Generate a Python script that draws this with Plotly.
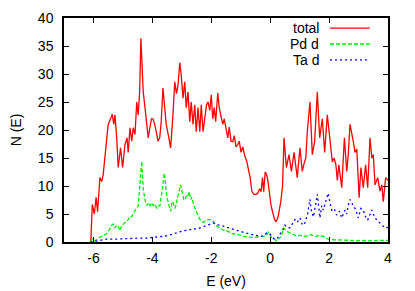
import plotly.graph_objects as go

# ---- data ----
e_total = [-6.10, -6.09, -6.04, -5.97, -5.91, -5.86, -5.78, -5.72, -5.67, -5.58, -5.50, -5.42, -5.36, -5.31,
           -5.27, -5.21, -5.16, -5.08, -5.01, -4.93, -4.86, -4.82, -4.76, -4.70, -4.65, -4.59, -4.53, -4.48,
           -4.43, -4.39, -4.35, -4.31, -4.25, -4.19, -4.14, -4.08, -4.03, -3.98, -3.92, -3.86, -3.81, -3.75,
           -3.70, -3.64, -3.58, -3.53, -3.44, -3.38, -3.30, -3.24, -3.18, -3.13, -3.07, -3.02, -2.96, -2.90,
           -2.85, -2.79, -2.73, -2.68, -2.62, -2.56, -2.51, -2.45, -2.39, -2.34, -2.28, -2.22, -2.16, -2.11,
           -2.05, -2.00, -1.95, -1.90, -1.85, -1.78, -1.73, -1.67, -1.61, -1.56, -1.50, -1.44, -1.39, -1.33,
           -1.27, -1.22, -1.16, -1.10, -1.05, -0.99, -0.93, -0.87, -0.80, -0.74, -0.68, -0.62, -0.55, -0.48,
           -0.42, -0.36, -0.31, -0.26, -0.22, -0.17, -0.12, -0.08, -0.03, 0.03, 0.10, 0.15, 0.20, 0.27,
           0.36, 0.42, 0.47, 0.55, 0.64, 0.72, 0.81, 0.92, 1.01, 1.09, 1.15, 1.21, 1.26, 1.35, 1.43, 1.51,
           1.60, 1.68, 1.77, 1.85, 1.94, 2.03, 2.11, 2.17, 2.23, 2.28, 2.33, 2.43, 2.52, 2.60, 2.65, 2.71,
           2.75, 2.82, 2.88, 2.94, 3.02, 3.08, 3.16, 3.24, 3.31, 3.39, 3.45, 3.50, 3.56, 3.65, 3.73, 3.79,
           3.84, 3.92, 4.00]
n_total = [0.0, 0.0, 6.7, 5.0, 8.0, 5.4, 11.5, 10.8, 12.0, 16.8, 21.0, 22.0, 22.8, 21.0,
           22.7, 18.6, 13.3, 16.8, 13.3, 17.4, 18.6, 16.0, 20.4, 18.0, 20.4, 19.2, 25.0, 22.7,
           27.0, 36.4, 30.0, 26.8, 24.0, 20.4, 18.6, 20.5, 22.0, 22.0, 21.0, 19.5, 18.0, 18.6,
           21.5, 27.5, 23.0, 21.0, 18.6, 16.8, 22.7, 28.6, 26.5, 28.0, 32.0, 29.8, 25.7, 28.6,
           24.0, 26.8, 21.5, 25.0, 21.0, 24.5, 19.7, 24.0, 19.7, 24.5, 19.7, 22.0, 24.5, 25.0,
           23.5, 26.3, 22.0, 24.0, 21.5, 26.6, 24.0, 22.5, 21.0, 22.0, 20.0, 18.6, 20.5, 18.0,
           17.9, 19.0, 17.0, 17.4, 18.0, 16.0, 17.0, 15.5, 14.5, 13.0, 11.5, 9.0, 8.5, 8.5,
           8.7, 9.5, 9.0, 11.5, 9.0, 12.5, 12.0, 11.0, 8.5, 6.5, 5.0, 4.0, 3.6, 4.5,
           7.2, 10.0, 18.6, 13.3, 15.6, 12.6, 16.0, 11.5, 16.8, 12.6, 14.0, 15.0, 19.7, 25.0, 15.6, 18.0,
           26.8, 18.6, 22.0, 16.0, 22.7, 18.0, 14.3, 15.0, 13.8, 11.0, 13.8, 9.7, 18.6, 12.6, 15.6, 21.0,
           20.0, 18.0, 16.0, 16.6, 7.9, 13.3, 9.7, 13.8, 9.7, 18.6, 15.0, 15.6, 10.2, 11.5, 9.1, 10.2,
           7.2, 11.5, 11.0]

e_pd = [-6.10, -6.04, -5.95, -5.89, -5.80, -5.72, -5.63, -5.55, -5.46, -5.38, -5.33, -5.27, -5.21, -5.16,
        -5.10, -5.04, -4.98, -4.93, -4.87, -4.82, -4.76, -4.70, -4.64, -4.59, -4.53, -4.48, -4.42, -4.36,
        -4.31, -4.25, -4.19, -4.13, -4.08, -4.02, -3.97, -3.91, -3.85, -3.80, -3.74, -3.68, -3.59, -3.51,
        -3.46, -3.42, -3.38, -3.33, -3.29, -3.24, -3.20, -3.12, -3.04, -2.97, -2.93, -2.89, -2.85, -2.81,
        -2.75, -2.70, -2.66, -2.59, -2.54, -2.49, -2.44, -2.38, -2.27, -2.18, -2.10, -1.98, -1.87, -1.81,
        -1.70, -1.60, -1.53, -1.48, -1.38, -1.25, -1.19, -1.05, -0.91, -0.75, -0.57, -0.40, -0.23, -0.12,
        -0.06, 0.05, 0.22, 0.38, 0.45, 0.56, 0.66, 0.77, 0.88, 1.00, 1.10, 1.20, 1.30, 1.40, 1.50, 1.60,
        1.70, 1.80, 1.97, 2.15, 2.30, 2.50, 2.70, 2.90, 3.10, 3.30, 3.50, 3.75, 4.00]
n_pd = [0.0, 0.6, 0.2, 0.5, 0.8, 1.0, 1.3, 1.5, 2.2, 3.0, 3.2, 2.5, 3.0, 2.8,
        2.0, 3.0, 3.2, 3.5, 3.8, 4.0, 4.6, 4.5, 5.2, 5.5, 6.0, 6.5, 10.0, 14.4,
        9.5, 7.5, 6.5, 7.0, 6.5, 7.0, 6.5, 6.8, 6.0, 6.4, 6.5, 8.5, 12.3, 8.0,
        7.0, 6.2, 5.5, 7.2, 7.0, 6.0, 6.5, 8.5, 10.2, 8.5, 7.6, 7.5, 8.2, 8.0,
        9.0, 7.6, 8.0, 6.5, 5.8, 5.0, 4.6, 4.0, 3.5, 3.8, 4.0, 4.0, 3.2, 2.8,
        2.5, 2.2, 1.9, 2.0, 1.7, 1.4, 1.5, 1.2, 1.0, 0.9, 0.8, 0.9, 1.0, 1.2,
        1.75, 0.8, 0.2, 1.0, 2.5, 1.9, 1.6, 1.4, 1.1, 1.2, 1.0, 1.0, 1.2, 1.3, 1.0, 1.1,
        1.2, 1.0, 0.5, 0.4, 0.4, 0.3, 0.3, 0.2, 0.3, 0.2, 0.3, 0.3, 0.3]

e_ta = [-6.10, -6.00, -5.80, -5.55, -5.30, -4.99, -4.70, -4.42, -4.20, -3.97, -3.80, -3.63, -3.45,
        -3.29, -3.12, -2.95, -2.78, -2.61, -2.50, -2.38, -2.27, -2.12, -1.98, -1.93, -1.82, -1.70,
        -1.55, -1.36, -1.20, -1.02, -0.85, -0.68, -0.50, -0.34, -0.22, -0.12, 0.00, 0.08, 0.16, 0.25,
        0.33, 0.42, 0.50, 0.58, 0.67, 0.75, 0.84, 0.92, 1.01, 1.10, 1.18, 1.27, 1.35, 1.40, 1.47,
        1.52, 1.60, 1.69, 1.75, 1.80, 1.88, 1.97, 2.03, 2.09, 2.17, 2.26, 2.35, 2.43, 2.54, 2.60,
        2.65, 2.71, 2.80, 2.90, 2.99, 3.08, 3.16, 3.24, 3.31, 3.38, 3.45, 3.50, 3.56, 3.65, 3.73,
        3.82, 3.90, 4.00]
n_ta = [0.0, 0.1, 0.3, 0.5, 0.5, 0.6, 0.6, 0.7, 0.7, 0.8, 0.9, 1.0, 1.2,
        1.5, 1.8, 2.0, 2.1, 2.4, 2.3, 2.5, 2.8, 3.0, 3.3, 3.4, 3.1, 3.0,
        2.8, 2.5, 2.2, 1.9, 1.6, 1.4, 1.2, 1.0, 1.1, 1.6, 1.4, 0.8, 0.5, 0.7,
        1.4, 2.0, 3.0, 2.6, 2.5, 3.2, 4.0, 3.5, 4.3, 3.0, 3.4, 5.0, 7.6, 5.5, 4.5,
        6.0, 8.5, 4.3, 6.5, 5.7, 7.0, 8.7, 7.0, 5.7, 6.0, 4.8, 5.5, 4.3, 5.7, 5.0,
        6.5, 7.6, 6.7, 5.8, 4.3, 6.0, 5.7, 4.5, 3.9, 5.0, 5.7, 5.0, 4.3, 3.8, 3.4,
        3.0, 2.5, 2.6]

series_names = ["total", "Pd d", "Ta d"]
series_colors = ["#ff0000", "#00ee00", "#0000ff"]
series_dash = ["solid", "4px,2px", "2px,3px"]
x_ticks = [-6, -4, -2, 0, 2, 4]
y_ticks = [0, 5, 10, 15, 20, 25, 30, 35, 40]

FONT = "Liberation Sans, Arial, sans-serif"

fig = go.Figure()
for (xs, ys), name, col, dash in zip([(e_total, n_total), (e_pd, n_pd), (e_ta, n_ta)],
                                     series_names, series_colors, series_dash):
    fig.add_trace(go.Scatter(x=xs, y=ys, mode="lines", name=name,
                             line=dict(color=col, width=1.3, dash=dash), showlegend=False))

# gnuplot-style legend (text left of sample line)
leg_y = [0.955, 0.884, 0.813]
for name, col, dash, yy in zip(series_names, series_colors, series_dash, leg_y):
    fig.add_annotation(x=0.790, y=yy, xref="paper", yref="paper", text=name, showarrow=False,
                       xanchor="right", yanchor="middle", height=14, borderpad=0,
                       font=dict(size=14, color="black", family=FONT))
    fig.add_shape(type="line", xref="paper", yref="paper", x0=0.821, x1=0.944, y0=yy, y1=yy,
                  line=dict(color=col, width=1.3, dash=dash))

axis_common = dict(showline=True, linecolor="black", linewidth=1.5, mirror="ticks",
                   ticks="inside", ticklen=5, tickcolor="black", tickwidth=1,
                   showgrid=False, zeroline=False, automargin=False,
                   tickfont=dict(size=14, color="black", family=FONT))

fig.update_xaxes(range=[-7, 4], tickvals=x_ticks, ticktext=[str(v) for v in x_ticks],
                 title=dict(text="E (eV)", font=dict(size=14, color="black", family=FONT), standoff=12),
                 ticklabelstandoff=2, **axis_common)
fig.update_yaxes(range=[0, 40], tickvals=y_ticks, ticktext=[str(v) for v in y_ticks],
                 title=dict(text="N (E)", font=dict(size=14, color="black", family=FONT), standoff=13),
                 ticklabelstandoff=6, **axis_common)

fig.update_layout(width=415, height=291, margin=dict(l=64, r=27, t=18, b=49, pad=0, autoexpand=False),
                  plot_bgcolor="white", paper_bgcolor="white",
                  font=dict(family=FONT, size=14, color="black"))

fig.write_html("out.html", config={"displayModeBar": False},
               post_script="document.body.style.margin='0';document.body.style.overflow='hidden';")
